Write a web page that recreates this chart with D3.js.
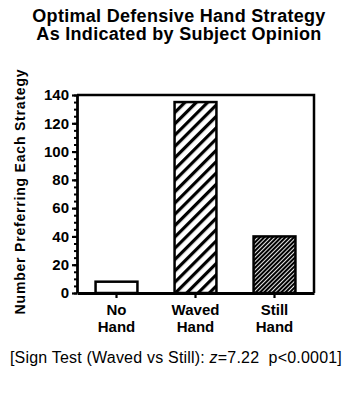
<!DOCTYPE html>
<html>
<head>
<meta charset="utf-8">
<script src="https://cdn.jsdelivr.net/npm/d3@7"></script>
<style>
  body { margin: 0; background: #fff; }
  svg { display: block; font-family: 'Liberation Sans', Arial, sans-serif; }
</style>
</head>
<body>
<svg id="chart" width="351" height="394"></svg>
<script>
// data
const categories = [['No', 'Hand'], ['Waved', 'Hand'], ['Still', 'Hand']];
const counts = [8, 135, 40];
const fills = ['white', 'url(#hatch)', 'url(#dense)'];
const yTicks = [0, 20, 40, 60, 80, 100, 120, 140];

const svg = d3.select('#chart');
const width = +svg.attr('width');
const height = +svg.attr('height');
const margin = { top: 95, right: 37, bottom: 101, left: 77 };
const innerWidth = width - margin.left - margin.right;
const innerHeight = height - margin.top - margin.bottom;

// patterns for the bars
const defs = svg.append('defs');
defs.append('pattern')
    .attr('id', 'hatch')
    .attr('patternUnits', 'userSpaceOnUse')
    .attr('width', 8).attr('height', 8)
    .attr('patternTransform', 'rotate(45)')
  .append('rect')
    .attr('width', 3.2).attr('height', 8)
    .attr('fill', 'black');

const dense = defs.append('pattern')
    .attr('id', 'dense')
    .attr('patternUnits', 'userSpaceOnUse')
    .attr('width', 3).attr('height', 3)
    .attr('patternTransform', 'rotate(45)');
dense.append('rect').attr('width', 3).attr('height', 3).attr('fill', 'black');
dense.append('rect').attr('width', 0.9).attr('height', 3).attr('fill', 'white');

const xScale = d3.scaleBand()
  .domain(d3.range(categories.length))
  .range([0, innerWidth])
  .paddingInner(0.47)
  .paddingOuter(0.235);

const yScale = d3.scaleLinear()
  .domain([0, 140])
  .range([innerHeight, 0]);

const g = svg.append('g')
  .attr('transform', `translate(${margin.left},${margin.top})`);

// bars
g.selectAll('.bar').data(counts)
  .enter().append('rect')
    .attr('class', 'bar')
    .attr('x', (d, i) => xScale(i))
    .attr('y', d => yScale(d))
    .attr('width', xScale.bandwidth())
    .attr('height', d => innerHeight - yScale(d))
    .attr('fill', (d, i) => fills[i])
    .attr('stroke', 'black')
    .attr('stroke-width', 2.5);

// frame (top and right)
g.append('path')
  .attr('d', `M0,${yScale(140)}H${innerWidth}V${innerHeight}`)
  .attr('fill', 'none')
  .attr('stroke', 'black')
  .attr('stroke-width', 2.5);

// y axis with minor ticks every 5
const yAxisMinor = d3.axisLeft(yScale)
  .tickValues(d3.range(0, 141, 5))
  .tickSize(3);
g.append('g').call(yAxisMinor)
  .call(s => s.selectAll('line').attr('stroke-width', 2))
  .call(s => s.selectAll('text').remove())
  .select('.domain').remove();

const yAxis = d3.axisLeft(yScale)
  .tickValues(yTicks)
  .tickSize(5)
  .tickSizeOuter(0)
  .tickPadding(3);
g.append('g').attr('class', 'y-axis').call(yAxis)
  .call(s => s.select('.domain').attr('stroke-width', 2.8))
  .call(s => s.selectAll('line').attr('stroke-width', 2.2))
  .call(s => s.selectAll('text')
    .attr('font-size', 15)
    .attr('font-weight', 'bold')
    .attr('font-family', "'Liberation Sans', Arial, sans-serif")
    .attr('fill', 'black'));

// x axis
const xAxis = d3.axisBottom(xScale)
  .tickSize(5)
  .tickSizeOuter(0);
const xAxisG = g.append('g').attr('class', 'x-axis')
  .attr('transform', `translate(0,${innerHeight})`)
  .call(xAxis);
xAxisG.selectAll('.tick text').remove();
xAxisG.select('.domain').attr('stroke-width', 2.8);
xAxisG.selectAll('line').attr('stroke-width', 2.2);

// two-line category labels
categories.forEach((lines, i) => {
  const cx = xScale(i) + xScale.bandwidth() / 2;
  lines.forEach((line, j) => {
    xAxisG.append('text')
      .attr('class', 'cat')
      .attr('x', cx)
      .attr('y', 22 + j * 17)
      .attr('text-anchor', 'middle')
      .attr('font-size', 15)
      .attr('font-weight', 'bold')
      .attr('fill', 'black')
      .text(line);
  });
});

// y axis label
svg.append('text')
  .attr('transform', `translate(25,${(65 + 318) / 2}) rotate(-90)`)
  .attr('text-anchor', 'middle')
  .attr('font-size', 14)
  .attr('font-weight', 'bold')
  .attr('letter-spacing', 0.8)
  .text('Number Preferring Each Strategy');

// title
svg.append('text')
  .attr('x', 179).attr('y', 22)
  .attr('text-anchor', 'middle')
  .attr('font-size', 18)
  .attr('font-weight', 'bold')
  .attr('letter-spacing', 0.3)
  .text('Optimal Defensive Hand Strategy');
svg.append('text')
  .attr('x', 179).attr('y', 40)
  .attr('text-anchor', 'middle')
  .attr('font-size', 18)
  .attr('font-weight', 'bold')
  .attr('letter-spacing', 0.3)
  .text('As Indicated by Subject Opinion');

// footnote
const note = svg.append('text')
  .attr('x', 176)
  .attr('y', 363)
  .attr('text-anchor', 'middle')
  .attr('font-size', 16)
  .attr('letter-spacing', 0.2)
  .style('white-space', 'pre');
note.append('tspan').text('[Sign Test (Waved vs Still): ');
note.append('tspan').attr('font-style', 'italic').text('z');
note.append('tspan').text('=7.22  p<0.0001]');
</script>
</body>
</html>
